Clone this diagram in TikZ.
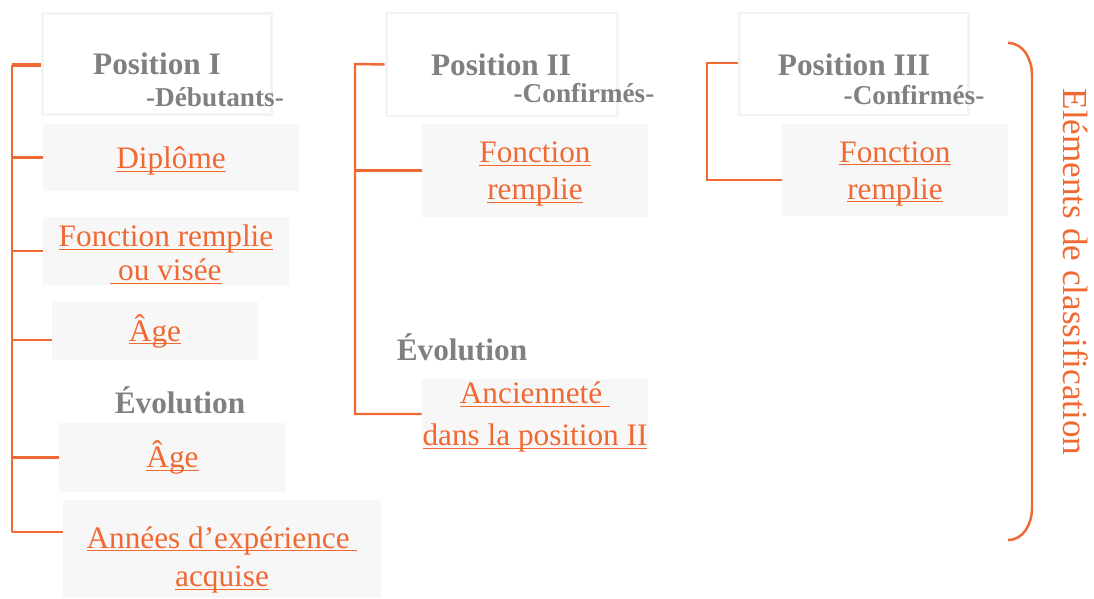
\documentclass[tikz,border=0pt]{standalone}
\usepackage{fontspec}
\setmainfont{Liberation Serif}
\usetikzlibrary{positioning}
\definecolor{orangeclair}{RGB}{240,104,50}
\definecolor{grisfond}{RGB}{247,247,247}
\definecolor{grisbord}{RGB}{243,243,243}
\definecolor{gristexte}{RGB}{128,128,128}
\newcommand{\souligne}[2][0.075cm]{\raisebox{-#1}[\height][\depth]{#2\llap{\underline{\smash{\phantom{#2}}}}}}
\tikzset{
  elem/.style={fill=grisfond, inner sep=0pt, text=orangeclair, align=center,
    font=\fontsize{17.8}{21}\selectfont},
  posbox/.style={fill=white, draw=grisbord, line width=1.7pt, inner sep=0pt,
    text=gristexte, font=\bfseries\fontsize{17.8}{20}\selectfont},
  titre/.style={text=gristexte, font=\bfseries\fontsize{17.8}{20}\selectfont},
  soustitre/.style={text=gristexte, font=\bfseries\fontsize{15.5}{18}\selectfont},
  trait/.style={draw=orangeclair, line width=1.4pt},
}

\begin{document}
\begin{tikzpicture}[x=0.02cm,y=-0.02cm]
        \useasboundingbox (0,0) rectangle (1094,598);

        % position I
        \node [posbox,minimum width=229*0.02cm,minimum height=101*0.02cm] (pos1) at (157,64) {Position I};
        \node [soustitre] (deb) at (215,97) {-Débutants-};
        \node [elem,minimum width=256*0.02cm,minimum height=67*0.02cm] (diplome) at (171,157.5) {\souligne{Diplôme}};
        \node [elem,minimum width=246*0.02cm,minimum height=68*0.02cm,font=\fontsize{17.8}{19.5}\selectfont] (fonc1) at (166,251) {\souligne{Fonction remplie}\\\souligne{\ ou visée}};
        \node [elem,minimum width=206*0.02cm,minimum height=58*0.02cm] (age1) at (155,331) {\souligne[0cm]{Âge}};
        \node [titre] (evol1) at (180,400) {Évolution};
        \node [elem,minimum width=227*0.02cm,minimum height=69*0.02cm] (age2) at (172.5,457.5) {\souligne[0cm]{Âge}};
        \node [elem,minimum width=318*0.02cm,minimum height=98*0.02cm] (annees) at (222,549) {};
        \node [text=orangeclair,align=center,font=\fontsize{17.8}{22}\selectfont] (annees-t) at (222,557) {\souligne[0.06cm]{Années d’expérience\ }\\\souligne[0.06cm]{acquise}};

        % position II
        \node [posbox,minimum width=231*0.02cm,minimum height=103*0.02cm] (pos2) at (501.5,64.5) {};
        \node [titre] (pos2-t) at (501,65) {Position II};
        \node [soustitre] (conf2) at (584,93) {-Confirmés-};
        \node [elem,minimum width=226*0.02cm,minimum height=93*0.02cm] (fonc2) at (535,170.5) {\souligne{Fonction}\\\souligne{remplie}};
        \node [titre] (evol2) at (462,347) {Évolution};
        \node [elem,minimum width=226*0.02cm,minimum height=68*0.02cm,font=\fontsize{17.8}{24}\selectfont] (anc) at (535,414) {\souligne[0.06cm]{Ancienneté\ }\\\souligne[0.06cm]{dans la position II}};

        % position III
        \node [posbox,minimum width=229*0.02cm,minimum height=102*0.02cm] (pos3) at (854,64) {};
        \node [titre] (pos3-t) at (854,65) {Position III};
        \node [soustitre] (conf3) at (914,95) {-Confirmés-};
        \node [elem,minimum width=226*0.02cm,minimum height=92*0.02cm] (fonc3) at (895,170) {\souligne{Fonction}\\\souligne{remplie}};

        % accolade
        \coordinate (acc-haut) at (1008,43);
        \coordinate (acc-bas) at (1008,540);
        \draw [trait] (acc-haut) to[out=0,in=90] (1032,75) -- (1032,508) to[out=-90,in=0] (acc-bas);
        \node [rotate=-90,text=orangeclair,font=\fontsize{20}{24}\selectfont] (classif) at (1076,272) {Eléments de classification};

        % lignes
        \coordinate (racine1) at (12,65);
        \coordinate (bas1) at (12,532);
        \coordinate (age1-g) at ([yshift=-0.18cm]age1.west);
        \draw [trait] (racine1) -- (bas1);
        \draw [trait,line width=2.4pt] (racine1) -- (racine1 -| pos1.west);
        \draw [trait] (racine1 |- diplome.west) -- (diplome.west);
        \draw [trait] (racine1 |- fonc1.west) -- (fonc1.west);
        \draw [trait] (racine1 |- age1-g) -- (age1-g);
        \draw [trait] (racine1 |- age2.west) -- (age2.west);
        \draw [trait] (bas1) -- (bas1 -| annees.west);

        \coordinate (racine2) at (355,64);
        \draw [trait] (pos2.west) -- (racine2) -- (racine2 |- anc.west) -- (anc.west);
        \draw [trait] (racine2 |- fonc2.west) -- (fonc2.west);

        \coordinate (racine3) at (707,63);
        \coordinate (fonc3-g) at ([yshift=-0.2cm]fonc3.west);
        \draw [trait] (racine3 -| pos3.west) -- (racine3) -- (racine3 |- fonc3-g) -- (fonc3-g);

    \end{tikzpicture}
\end{document}
